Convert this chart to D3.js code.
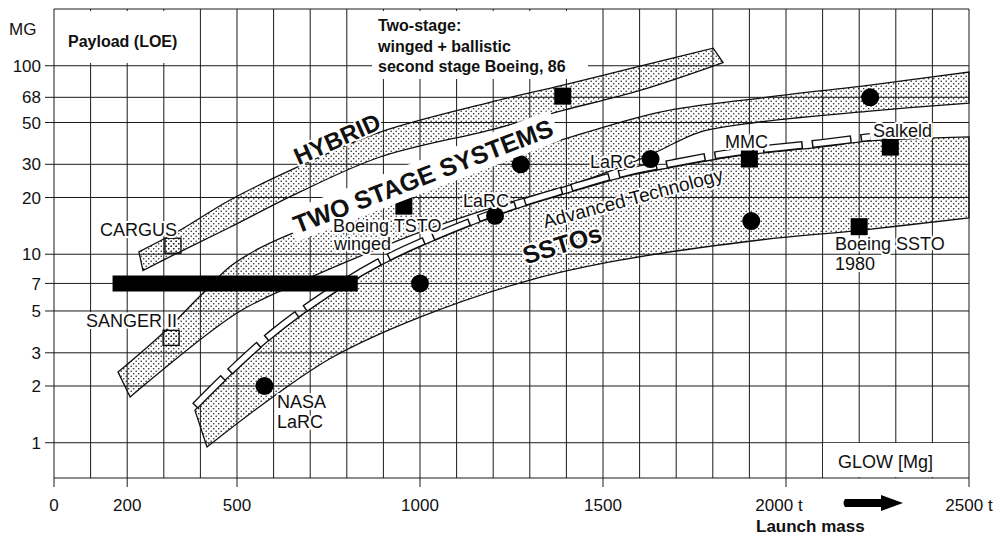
<!DOCTYPE html>
<html lang="en">
<head>
<meta charset="UTF-8">
<title>Payload vs launch mass</title>
<script src="https://cdn.jsdelivr.net/npm/d3@7/dist/d3.min.js"></script>
<style>
  body { margin: 0; background: #fff; }
  text { font-family: "Liberation Sans", Arial, sans-serif; fill: #111; }
  .halo { paint-order: stroke; stroke: #fff; stroke-width: 4px; stroke-linejoin: round; }
</style>
</head>
<body>
<svg width="1005" height="536"></svg>
<script>
// axis values
var yTickValues = [1, 2, 3, 5, 7, 10, 20, 30, 50, 68, 100];
var xTickValues = [0, 200, 500, 1000, 1500, 2000, 2500];
var xTickLabels = ['0', '200', '500', '1000', '1500', '2000 t', '2500 t'];

// bands: [GLOW Mg, payload Mg]
var hybridUpper = [[232,10.3],[344,13.4],[481,19.4],[672,29.4],[891,44.5],[1191,64],[1391,79],[1601,99.6],[1801,124]];
var hybridLower = [[243,8.2],[344,10.3],[481,13.9],[672,21.4],[891,32.8],[1191,45.6],[1391,58],[1601,74],[1828,104]];
var twoStageUpper = [[175,2.37],[298,3.82],[399,6.0],[481,8.6],[563,10.8],[672,13.4],[781,15.6],[945,20.6],[1109,27.3],[1369,39.4],[1656,56.8],[1929,67.4],[2230,79],[2500,92.6]];
var twoStageLower = [[208,1.75],[500,4.88],[672,7.1],[781,8.8],[1000,13.1],[1219,18.2],[1437,24.2],[1628,33.6],[1765,44.5],[1929,50.3],[2230,57.5],[2500,63.4]];
var sstoUpper = [[385,1.49],[473,2.2],[598,3.64],[727,5.57],[883,8.55],[1055,12.2],[1254,17.2],[1402,21.1],[1566,26],[1691,29],[1847,32.8],[2093,37],[2230,39.9],[2500,41.9]];
var sstoLower = [[418,0.95],[598,1.75],[762,2.85],[1000,4.64],[1301,7.3],[1546,9.3],[1929,11.9],[2202,13.4],[2500,15.6]];

// single designs
var circles = [[575,2],[1000,7],[1205,16],[1275,30],[1630,32],[1905,15],[2230,68]];
var squares = [[956,18],[1390,69],[1900,32],[2285,37],[2200,14]];
var openSquares = [[325,11.1],[320,3.6]];
var barRange = [160, 830], barPayload = 7;

var svg = d3.select('svg');
var x = d3.scaleLinear().domain([0, 2500]).range([54, 969]);
var y = d3.scaleLog().domain([0.65, 200]).range([478, 9]);

// stipple
var pat = svg.append('defs').append('pattern')
    .attr('id', 'dots').attr('width', 5).attr('height', 5)
    .attr('patternUnits', 'userSpaceOnUse');
pat.append('circle').attr('cx', 1.2).attr('cy', 1.2).attr('r', 0.8).attr('fill', '#222');
pat.append('circle').attr('cx', 3.7).attr('cy', 3.7).attr('r', 0.8).attr('fill', '#222');

// grid
var grid = svg.append('g').attr('stroke', '#1a1a1a').attr('stroke-width', 1);
grid.selectAll('.v').data(x.ticks(25)).enter().append('line')
    .attr('x1', function (d) { return x(d); }).attr('x2', function (d) { return x(d); })
    .attr('y1', y(200)).attr('y2', y(0.65));
grid.selectAll('.h').data(yTickValues).enter().append('line')
    .attr('x1', 45).attr('x2', x(2500))
    .attr('y1', function (d) { return y(d); }).attr('y2', function (d) { return y(d); });
grid.selectAll('.b').data([200, 0.65]).enter().append('line')
    .attr('x1', x(0)).attr('x2', x(2500))
    .attr('y1', function (d) { return y(d); }).attr('y2', function (d) { return y(d); });
grid.selectAll('.t').data(xTickValues).enter().append('line')
    .attr('x1', function (d) { return x(d); }).attr('x2', function (d) { return x(d); })
    .attr('y1', y(0.65)).attr('y2', y(0.65) + 9);

// white boxes over the grid
function box(x0, y0, x1, y1) {
    svg.append('rect').attr('x', x0).attr('y', y0).attr('width', x1 - x0).attr('height', y1 - y0).attr('fill', '#fff');
}
box(57, 11, 196, 63);
box(372, 11, 588, 79);
box(823, 443, 968, 477);

// bands
var edge = d3.line().x(function (d) { return x(d[0]); }).y(function (d) { return y(d[1]); }).curve(d3.curveCatmullRom);
function bandPath(up, lo) {
    return edge(up) + edge(lo.slice().reverse()).replace('M', 'L') + 'Z';
}
var bands = [[hybridUpper, hybridLower], [twoStageUpper, twoStageLower], [sstoUpper, sstoLower]];
svg.append('g').selectAll('path').data(bands).enter().append('path')
    .attr('d', function (d) { return bandPath(d[0], d[1]); })
    .attr('fill', 'url(#dots)').attr('stroke', '#111').attr('stroke-width', 1.3);

// "Advanced Technology" dashes along the SSTO upper edge
var dashEdge = sstoUpper.filter(function (d) { return d[0] <= 2230; });
var dg = svg.append('g').attr('transform', 'translate(0,-4)').attr('fill', 'none');
dg.append('path').attr('d', edge(dashEdge)).attr('stroke', '#111').attr('stroke-width', 8).attr('stroke-dasharray', '40,9');
dg.append('path').attr('d', edge(dashEdge)).attr('stroke', '#fff').attr('stroke-width', 5.4)
    .attr('stroke-dasharray', '37,12').attr('stroke-dashoffset', -1.5);

// thick bar at 7 Mg
svg.append('line').attr('x1', x(barRange[0])).attr('x2', x(barRange[1]))
    .attr('y1', y(barPayload)).attr('y2', y(barPayload))
    .attr('stroke', '#000').attr('stroke-width', 16);

// markers
svg.append('g').selectAll('circle').data(circles).enter().append('circle')
    .attr('cx', function (d) { return x(d[0]); }).attr('cy', function (d) { return y(d[1]); })
    .attr('r', 9).attr('fill', '#000');
svg.append('g').selectAll('rect').data(squares).enter().append('rect')
    .attr('x', function (d) { return x(d[0]) - 8.5; }).attr('y', function (d) { return y(d[1]) - 8.5; })
    .attr('width', 17).attr('height', 17).attr('fill', '#000');
svg.append('g').selectAll('rect').data(openSquares).enter().append('rect')
    .attr('x', function (d) { return x(d[0]) - 8; }).attr('y', function (d) { return y(d[1]) - 7.5; })
    .attr('width', 16).attr('height', 15).attr('fill', 'url(#dots)').attr('stroke', '#111').attr('stroke-width', 1.4);

// labels
function label(t, px, py, size, opts) {
    opts = opts || {};
    var g = svg.append('g').attr('transform', 'translate(' + px + ',' + py + ') rotate(' + (opts.rot || 0) + ')');
    var txt = g.append('text').attr('font-size', size).attr('font-weight', opts.bold ? 'bold' : 'normal')
        .attr('text-anchor', opts.anchor || 'start').text(t);
    if (opts.central) txt.attr('dominant-baseline', 'central');
    if (opts.bg) {
        var b = txt.node().getBBox();
        g.insert('rect', 'text').attr('x', b.x - 4).attr('y', b.y - 2).attr('width', b.width + 8).attr('height', b.height + 4).attr('fill', '#fff');
    } else if (opts.halo !== false) {
        txt.attr('class', 'halo');
    }
    return txt;
}

label('MG', 9, 35, 17, { halo: false });
label('Payload (LOE)', 68, 47, 16, { bold: true, halo: false });
label('Two-stage:', 378, 31, 16, { bold: true, halo: false });
label('winged + ballistic', 378, 52, 16, { bold: true, halo: false });
label('second stage Boeing, 86', 378, 72, 16, { bold: true, halo: false });

label('HYBRID', 337, 139, 24, { bold: true, rot: -24, anchor: 'middle', central: true });
label('TWO STAGE SYSTEMS', 423, 176, 25, { bold: true, rot: -21, anchor: 'middle', central: true, bg: true });
label('SSTOs', 562, 244, 25, { bold: true, rot: -17, anchor: 'middle', central: true });
label('Advanced Technology', 633, 198, 19, { rot: -15, anchor: 'middle', central: true });

label('CARGUS', 100, 236, 18);
label('SANGER II', 86, 327, 18);
label('NASA', 277, 408, 18);
label('LaRC', 277, 428, 18);
label('Boeing TSTO', 333, 232, 18);
label('winged', 334, 250, 18);
label('LaRC', 463, 207, 18);
label('LaRC', 590, 168, 18);
label('MMC', 725, 148, 18);
label('Salkeld', 873, 137, 18);
label('Boeing SSTO', 835, 250, 18);
label('1980', 835, 270, 18);
label('GLOW [Mg]', 838, 468, 18, { halo: false });

// y tick labels
svg.append('g').selectAll('text').data(yTickValues).enter().append('text')
    .attr('x', 41).attr('y', function (d) { return y(d); }).attr('dy', '0.36em')
    .attr('text-anchor', 'end').attr('font-size', 17).text(function (d) { return d; });

// x tick labels
svg.append('g').selectAll('text').data(xTickValues).enter().append('text')
    .attr('x', function (d, i) { return x(d) - (i === 5 ? 7 : 0); }).attr('y', 511)
    .attr('text-anchor', 'middle').attr('font-size', 17).text(function (d, i) { return xTickLabels[i]; });

// arrow + axis title
svg.append('path').attr('d', 'M845,499 L881,499 L881,495 L903,503 L881,511 L881,507 L845,507 Q842,503 845,499 Z').attr('fill', '#000');
label('Launch mass', 756, 532, 17, { bold: true, halo: false });
</script>
</body>
</html>
